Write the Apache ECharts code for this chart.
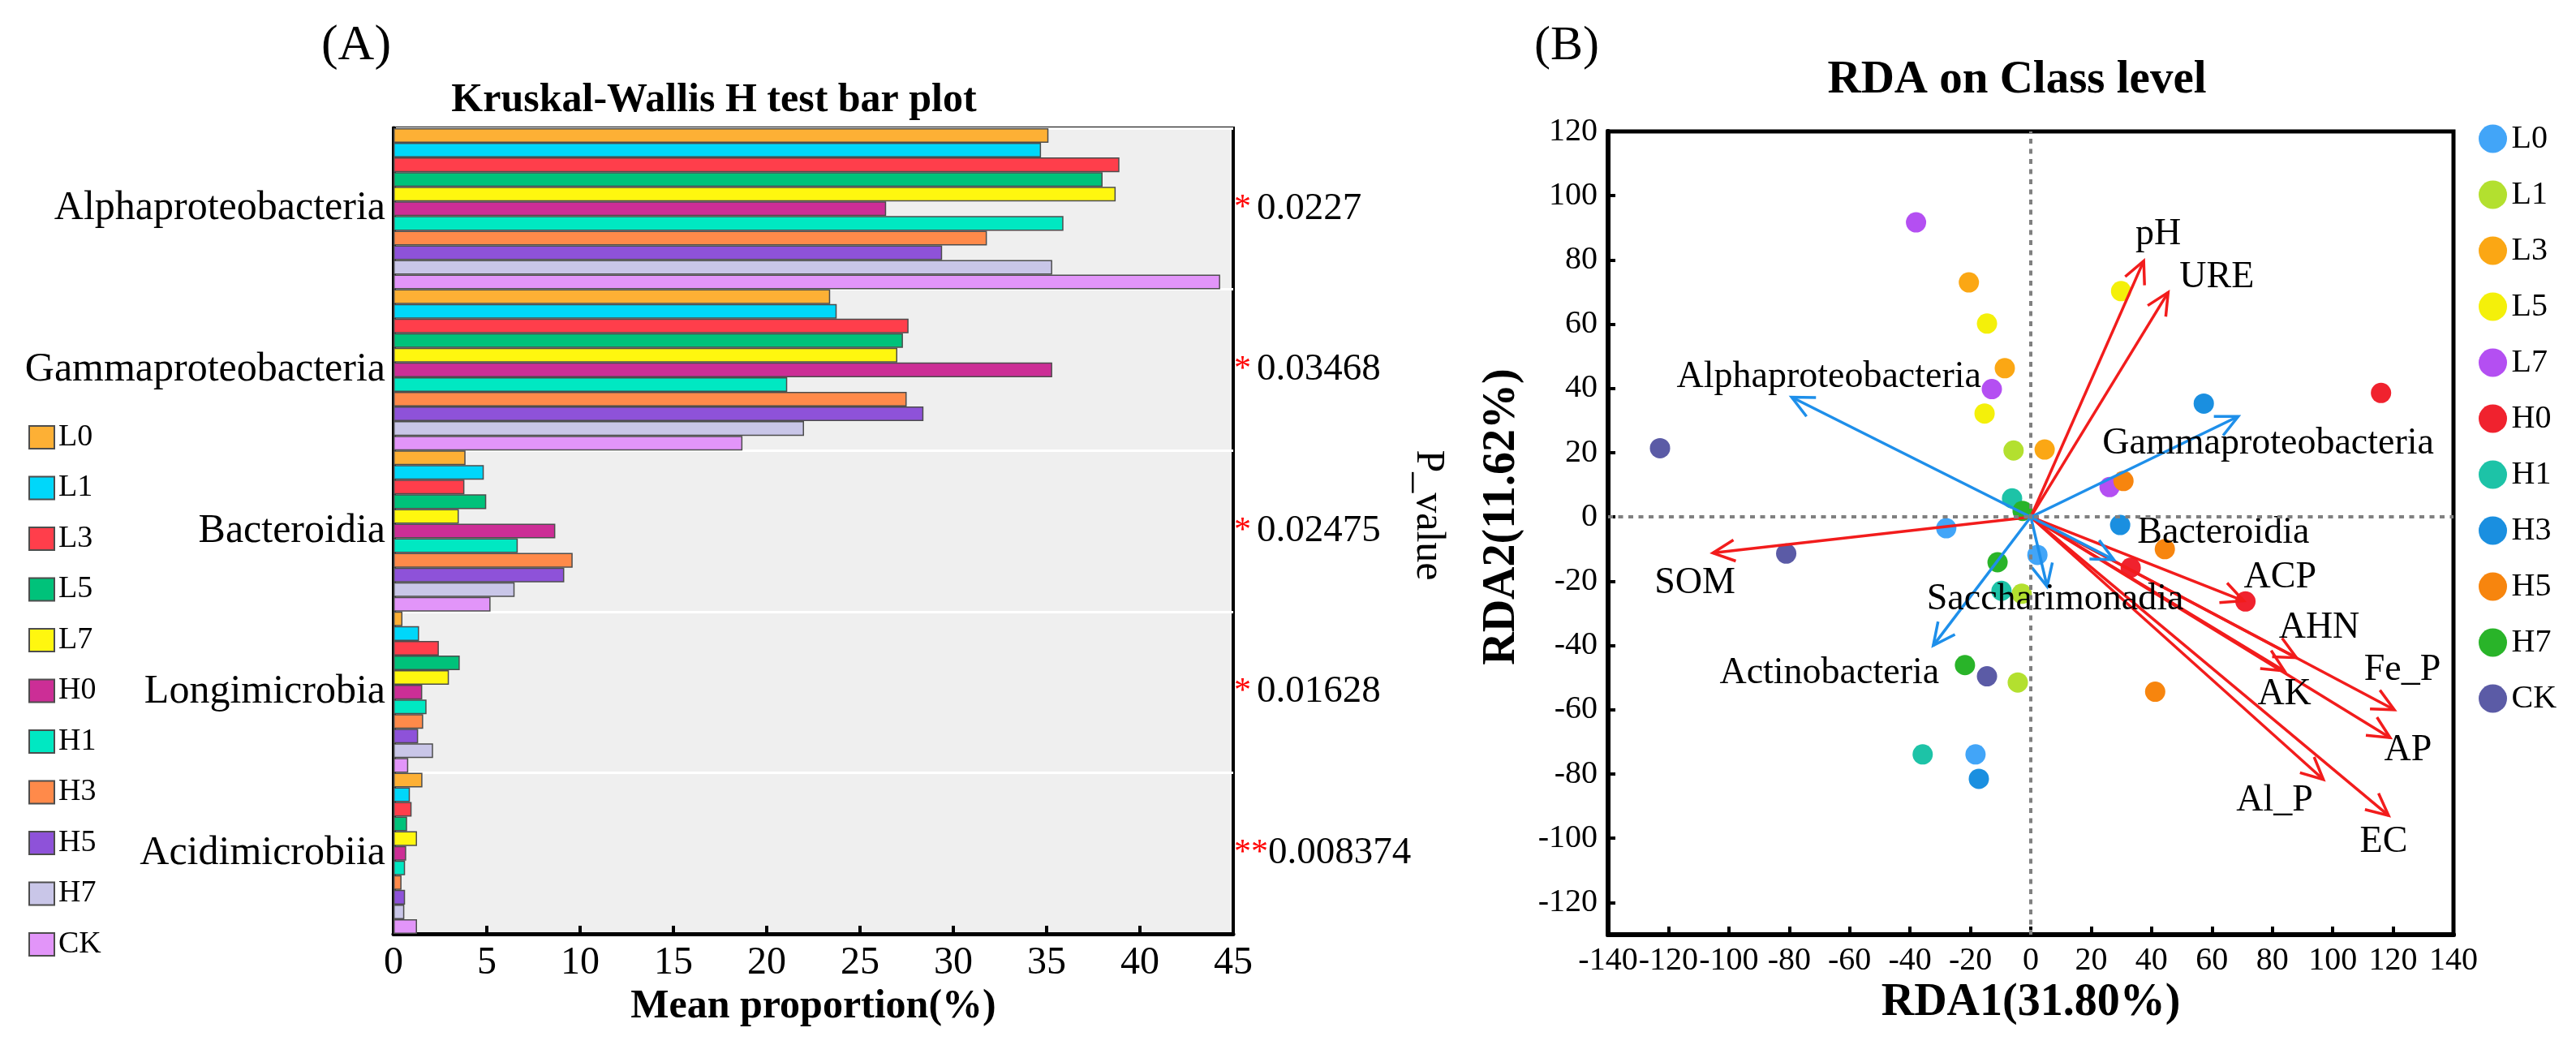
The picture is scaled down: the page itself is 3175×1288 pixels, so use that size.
<!DOCTYPE html>
<html>
<head>
<meta charset="utf-8">
<script src="https://cdn.jsdelivr.net/npm/echarts@6.0.0/dist/echarts.min.js"></script>
<style>
  html, body { margin: 0; padding: 0; background: #fff; }
  #barA { position: absolute; left: 0; top: 0; width: 1800px; height: 1288px; }
  #rdaB { position: absolute; left: 1800px; top: 0; width: 1375px; height: 1288px; }
</style>
</head>
<body>
<div id="barA"></div>
<div id="rdaB"></div>
<script>
// ---- panel A data ----
var categories = ['Alphaproteobacteria', 'Gammaproteobacteria', 'Bacteroidia', 'Longimicrobia', 'Acidimicrobiia'];
var groups = ['L0', 'L1', 'L3', 'L5', 'L7', 'H0', 'H1', 'H3', 'H5', 'H7', 'CK'];
var pStars = ['*', '*', '*', '*', '**'];
var pValues = ['0.0227', '0.03468', '0.02475', '0.01628', '0.008374'];
var xTicksA = [0, 5, 10, 15, 20, 25, 30, 35, 40, 45];

// mean proportion (%) per group, in category order
var barL0 = [35.1, 23.4, 3.86, 0.48, 1.55];
var barL1 = [34.7, 23.75, 4.84, 1.37, 0.88];
var barL3 = [38.9, 27.6, 3.8, 2.43, 0.97];
var barL5 = [38.0, 27.3, 4.97, 3.55, 0.73];
var barL7 = [38.7, 27.0, 3.5, 2.97, 1.26];
var barH0 = [26.4, 35.3, 8.67, 1.54, 0.68];
var barH1 = [35.9, 21.1, 6.66, 1.77, 0.62];
var barH3 = [31.8, 27.5, 9.6, 1.59, 0.43];
var barH5 = [29.4, 28.4, 9.15, 1.32, 0.62];
var barH7 = [35.3, 22.0, 6.49, 2.12, 0.58];
var barCK = [44.3, 18.7, 5.2, 0.79, 1.26];
var barValues = [barL0, barL1, barL3, barL5, barL7, barH0, barH1, barH3, barH5, barH7, barCK];

// ---- panel B data ----
var rdaXTicks = [-140, -120, -100, -80, -60, -40, -20, 0, 20, 40, 60, 80, 100, 120, 140];
var rdaYTicks = [-120, -100, -80, -60, -40, -20, 0, 20, 40, 60, 80, 100, 120];

// sample scores [RDA1, RDA2], three per group
var rdaL0 = [[-28.0, -3.5], [2.2, -11.8], [-18.3, -73.9]];
var rdaL1 = [[-5.7, 20.7], [-3.0, -23.9], [-4.3, -51.5]];
var rdaL3 = [[-20.5, 73.0], [-8.6, 46.3], [4.6, 21.0]];
var rdaL5 = [[-14.5, 60.2], [-15.3, 32.2], [29.9, 70.3]];
var rdaL7 = [[-38.0, 91.7], [-12.9, 39.8], [26.1, 9.3]];
var rdaH0 = [[116.0, 38.6], [33.1, -15.8], [71.1, -26.3]];
var rdaH1 = [[-6.2, 5.8], [-9.7, -23.0], [-35.8, -73.9]];
var rdaH3 = [[57.3, 35.3], [29.6, -2.5], [-17.2, -81.5]];
var rdaH5 = [[30.7, 11.2], [44.4, -10.0], [41.2, -54.4]];
var rdaH7 = [[-2.7, 1.9], [-11.0, -14.1], [-21.8, -46.1]];
var rdaCK = [[-122.8, 21.4], [-81.0, -11.4], [-14.5, -49.6]];
var rdaPoints = [rdaL0, rdaL1, rdaL3, rdaL5, rdaL7, rdaH0, rdaH1, rdaH3, rdaH5, rdaH7, rdaCK];

// environmental factor arrows (red)
var envNames = ['pH', 'URE', 'SOM', 'ACP', 'AHN', 'AK', 'Fe_P', 'AP', 'Al_P', 'EC'];
var envX = [37.4, 45.5, -105.3, 70.5, 88.0, 84.0, 120.4, 119.0, 96.9, 118.5];
var envY = [79.7, 69.9, -11.2, -26.1, -43.8, -47.9, -60.0, -68.7, -81.7, -92.9];

// species arrows (blue)
var taxaNames = ['Alphaproteobacteria', 'Gammaproteobacteria', 'Bacteroidia', 'Saccharimonadia', 'Actinobacteria'];
var taxaX = [-79.2, 68.7, 27.5, 5.4, -32.3];
var taxaY = [37.3, 31.3, -13.3, -21.6, -40.0];

// label offsets from arrow tips, in pixels
var envLabelOffset = [[18, -33], [60, -18], [-22, 37], [45, -29], [28, -37], [0, 29], [10, -49], [22, 16], [-60, 26], [-6, 33]];
var taxaLabelOffset = [[46, -25], [37, 34], [135, -33], [10, 16], [-128, 34]];

var FONT = '"Liberation Serif", "Times New Roman", serif';
var barColors = ['#FDB035', '#00D7FA', '#FF3E4B', '#00C27A', '#FFF70F', '#CC2E96', '#00E8C2', '#FF8A4A', '#8E52D9', '#C9C6E8', '#E295F9'];
var dotColors = ['#42A5F8', '#B3E02F', '#FBA714', '#F4F00A', '#B44FF2', '#F0222E', '#1DC3A7', '#1A8FE0', '#F7850E', '#29B429', '#5B5BA6'];

// ================= panel A =================
var chartA = echarts.init(document.getElementById('barA'));

var barSeries = groups.map(function (g, i) {
    return {
        name: g,
        type: 'bar',
        xAxisIndex: 0,
        yAxisIndex: 0,
        barGap: '0%',
        barCategoryGap: '0%',
        itemStyle: {color: barColors[i], borderColor: '#4d4d4d', borderWidth: 1.5},
        data: barValues[i]
    };
});

chartA.setOption({
    animation: false,
    backgroundColor: '#fff',
    textStyle: {fontFamily: FONT},
    graphic: [
        {type: 'text', x: 439, y: 57, style: {text: '(A)', fontSize: 62, fontFamily: FONT, fill: '#000', align: 'center', verticalAlign: 'middle'}},
        {type: 'text', x: 880, y: 124, style: {text: 'Kruskal-Wallis H test bar plot', fontSize: 50, fontWeight: 'bold', fontFamily: FONT, fill: '#000', align: 'center', verticalAlign: 'middle'}},
        {type: 'text', x: 1760, y: 635, rotation: -Math.PI / 2, style: {text: 'P_value', fontSize: 50, fontFamily: FONT, fill: '#000', align: 'center', verticalAlign: 'middle'}}
    ],
    legend: {
        data: groups,
        orient: 'vertical',
        left: 35,
        top: 520,
        padding: 0,
        itemWidth: 31,
        itemHeight: 28,
        itemGap: 24.5,
        icon: 'rect',
        selectedMode: false,
        textStyle: {fontSize: 38, fontFamily: FONT, color: '#000'}
    },
    grid: {
        left: 485, top: 158, width: 1035, height: 993,
        show: true,
        backgroundColor: '#efefef',
        borderColor: '#000',
        borderWidth: 4
    },
    xAxis: {
        type: 'value',
        min: 0,
        max: 45,
        interval: 5,
        name: 'Mean proportion(%)',
        nameLocation: 'middle',
        nameGap: 62,
        nameTextStyle: {fontSize: 50, fontWeight: 'bold', fontFamily: FONT, color: '#000'},
        axisLine: {show: true, lineStyle: {color: '#000', width: 5}},
        axisTick: {show: true, inside: true, length: 10, lineStyle: {color: '#000', width: 4}},
        axisLabel: {fontSize: 48, fontFamily: FONT, color: '#000', margin: 12},
        splitLine: {show: false}
    },
    yAxis: [
        {
            type: 'category',
            data: categories,
            inverse: true,
            axisLine: {show: true, lineStyle: {color: '#000', width: 5}},
            axisTick: {show: false},
            axisLabel: {fontSize: 50, fontFamily: FONT, color: '#000', margin: 10},
            splitLine: {show: true, lineStyle: {color: '#ffffff', width: 3}}
        },
        {
            type: 'category',
            data: categories,
            inverse: true,
            position: 'right',
            axisLine: {show: false},
            axisTick: {show: false},
            splitLine: {show: false},
            axisLabel: {
                margin: 1,
                formatter: function (v, i) {
                    return pStars[i].length > 1
                        ? '{s|' + pStars[i] + '}{n|' + pValues[i] + '}'
                        : '{s|' + pStars[i] + '}{g|}{n|' + pValues[i] + '}';
                },
                rich: {
                    s: {color: '#ff0000', fontSize: 42, fontFamily: FONT},
                    g: {width: 7},
                    n: {color: '#000', fontSize: 47, fontFamily: FONT}
                },
                fontSize: 47,
                fontFamily: FONT
            }
        }
    ],
    series: barSeries
});

// ================= panel B =================
var chartB = echarts.init(document.getElementById('rdaB'));

function arrowSeries(names, xs, ys, offsets, color) {
    return {
        type: 'custom',
        xAxisIndex: 0,
        yAxisIndex: 0,
        silent: true,
        z: 4,
        data: names.map(function (n, i) { return [xs[i], ys[i], i]; }),
        renderItem: function (params, api) {
            var o = api.coord([0, 0]);
            var p = api.coord([api.value(0), api.value(1)]);
            var i = api.value(2);
            var ang = Math.atan2(p[1] - o[1], p[0] - o[0]);
            var h = 30, a = 0.45;
            var w1 = [p[0] - h * Math.cos(ang - a), p[1] - h * Math.sin(ang - a)];
            var w2 = [p[0] - h * Math.cos(ang + a), p[1] - h * Math.sin(ang + a)];
            return {
                type: 'group',
                children: [
                    {type: 'line', shape: {x1: o[0], y1: o[1], x2: p[0], y2: p[1]}, style: {stroke: color, lineWidth: 3.5}},
                    {type: 'polyline', shape: {points: [w1, p, w2]}, style: {stroke: color, lineWidth: 3.5, fill: null}},
                    {type: 'text', x: p[0] + offsets[i][0], y: p[1] + offsets[i][1], z2: 10,
                        style: {text: names[i], fontSize: 46, fontFamily: FONT, fill: '#000', align: 'center', verticalAlign: 'middle'}}
                ]
            };
        }
    };
}

var dotSeries = groups.map(function (g, i) {
    var s = {
        name: g,
        type: 'scatter',
        symbolSize: 25,
        z: 3,
        itemStyle: {color: dotColors[i], opacity: 1},
        data: rdaPoints[i]
    };
    if (i === 0) {
        s.markLine = {
            silent: true,
            symbol: 'none',
            label: {show: false},
            lineStyle: {color: '#808080', type: [6, 6.5], width: 4},
            data: [
                {xAxis: 0},
                {yAxis: 0},
                [{coord: [0, 121.6], lineStyle: {color: '#1E8FEA', type: 'solid', width: 4}}, {coord: [0, 118.4]}]
            ]
        };
    }
    return s;
});

chartB.setOption({
    animation: false,
    backgroundColor: '#fff',
    textStyle: {fontFamily: FONT},
    graphic: [
        {type: 'text', x: 131, y: 57, style: {text: '(B)', fontSize: 60, fontFamily: FONT, fill: '#000', align: 'center', verticalAlign: 'middle'}},
        {type: 'text', x: 686, y: 99, style: {text: 'RDA on Class level', fontSize: 57, fontWeight: 'bold', fontFamily: FONT, fill: '#000', align: 'center', verticalAlign: 'middle'}},
        {type: 'text', x: 52, y: 637, rotation: Math.PI / 2, style: {text: 'RDA2(11.62%)', fontSize: 56, fontWeight: 'bold', fontFamily: FONT, fill: '#000', align: 'center', verticalAlign: 'middle'}}
    ],
    legend: {
        data: groups,
        orient: 'vertical',
        left: 1255,
        top: 151,
        padding: 0,
        itemWidth: 36,
        itemHeight: 35,
        itemGap: 29,
        icon: 'circle',
        selectedMode: false,
        textStyle: {fontSize: 40, fontFamily: FONT, color: '#000'}
    },
    grid: {
        left: 182, top: 162, width: 1042, height: 990,
        show: true,
        backgroundColor: '#fff',
        borderColor: '#000',
        borderWidth: 5
    },
    xAxis: {
        type: 'value',
        min: -140,
        max: 140,
        interval: 20,
        name: 'RDA1(31.80%)',
        nameLocation: 'middle',
        nameGap: 50,
        nameTextStyle: {fontSize: 56, fontWeight: 'bold', fontFamily: FONT, color: '#000'},
        axisLine: {show: true, onZero: false, lineStyle: {color: '#000', width: 6}},
        axisTick: {show: true, inside: true, length: 10, lineStyle: {color: '#000', width: 4}},
        axisLabel: {fontSize: 40, fontFamily: FONT, color: '#000', margin: 12},
        splitLine: {show: false}
    },
    yAxis: {
        type: 'value',
        min: -130,
        max: 120,
        axisLine: {show: true, onZero: false, lineStyle: {color: '#000', width: 6}},
        axisTick: {show: true, inside: true, length: 9, customValues: rdaYTicks, lineStyle: {color: '#000', width: 4}},
        axisLabel: {fontSize: 40, fontFamily: FONT, color: '#000', margin: 13, customValues: rdaYTicks},
        splitLine: {show: false}
    },
    series: dotSeries.concat([
        arrowSeries(envNames, envX, envY, envLabelOffset, '#F21C1C'),
        arrowSeries(taxaNames, taxaX, taxaY, taxaLabelOffset, '#1E8FEA')
    ])
});
</script>
</body>
</html>
